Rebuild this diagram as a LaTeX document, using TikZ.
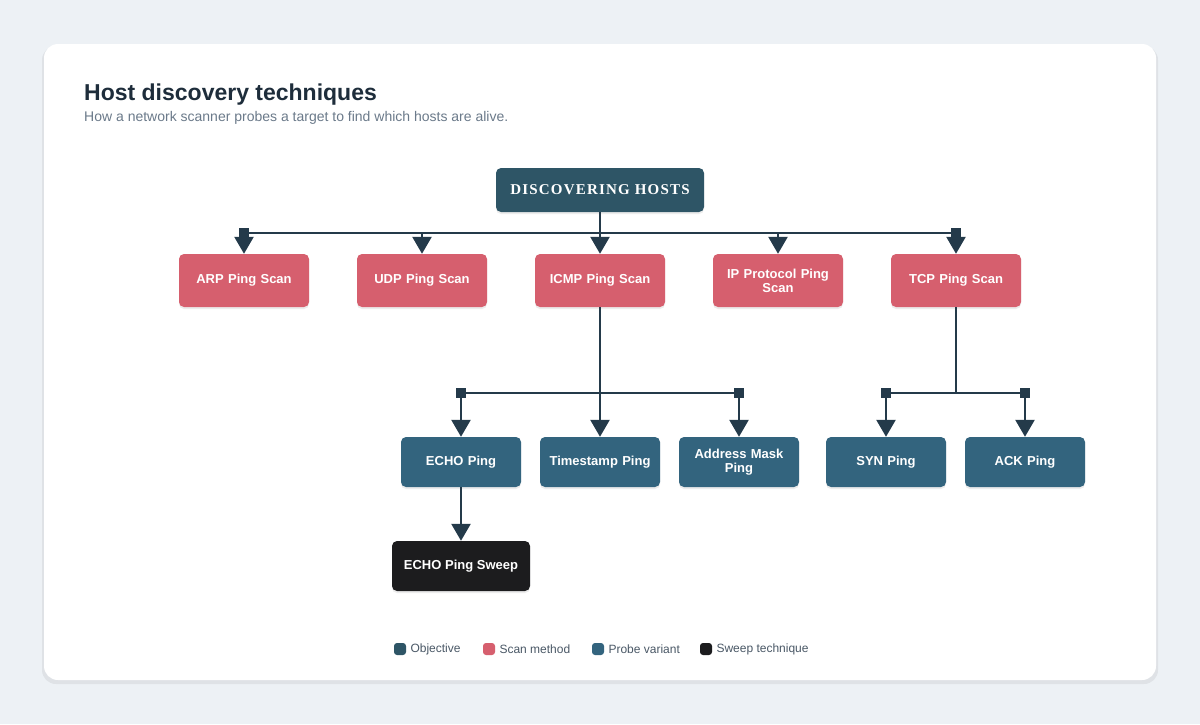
\documentclass[tikz,border=0pt]{standalone}
\usepackage{fontspec}
\setmainfont{Liberation Sans}
\newfontfamily\rootfont[LetterSpace=8]{Liberation Serif}
\usetikzlibrary{arrows.meta,shadows}
\definecolor{bg}{HTML}{EDF1F5}
\definecolor{line}{HTML}{243A4A}
\definecolor{obj}{HTML}{2E5566}
\definecolor{scan}{HTML}{D65F6E}
\definecolor{probe}{HTML}{33647E}
\definecolor{sweep}{HTML}{1C1C1E}
\definecolor{ttl}{HTML}{1E2D3B}
\definecolor{sub}{HTML}{6B7A8A}
\definecolor{leg}{HTML}{4A5866}
\begin{document}
\begin{tikzpicture}[x=1pt,y=-1pt,
  box/.style={rounded corners=5pt,text=white,font=\bfseries\fontsize{13}{14}\selectfont,align=center,inner sep=0pt,drop shadow={shadow xshift=0pt,shadow yshift=-2pt,opacity=0.15}},
  scan/.style={box,fill=scan,minimum width=130pt,minimum height=53pt,text width=120pt},
  probe/.style={box,fill=probe,minimum width=120pt,minimum height=50pt,text width=110pt},
  conn/.style={line,line width=2.5pt},
  arr/.style={conn,-{Triangle[width=19pt,length=17pt]}},
  sq/.style={fill=line,minimum size=10pt,inner sep=0pt},
  lg/.style={rounded corners=3pt,minimum size=12pt,inner sep=0pt},
  lt/.style={text=leg,font=\fontsize{12}{14}\selectfont,anchor=west}]
\fill[bg] (0,0) rectangle (1200,724);
\useasboundingbox (0,0) rectangle (1200,724);
\fill[black,opacity=0.06,rounded corners=14pt] (42,46) rectangle (1158,684);
\fill[white,rounded corners=14pt] (44,44) rectangle (1156,680);
\node[anchor=base west,text=ttl,font=\bfseries\fontsize{23}{26}\selectfont,inner sep=0pt] (title) at (84,100) {Host discovery techniques};
\node[anchor=base west,text=sub,font=\fontsize{14}{16}\selectfont,inner sep=0pt] (subt) at (84,121) {How a network scanner probes a target to find which hosts are alive.};
\node[box,fill=obj,minimum width=208pt,minimum height=44pt,font=\rootfont\bfseries\fontsize{15}{16}\selectfont] (root) at (600,190) {DISCOVERING HOSTS};
\node[scan] (arp) at (244,280.5) {ARP Ping Scan};
\node[scan] (udp) at (422,280.5) {UDP Ping Scan};
\node[scan] (icmp) at (600,280.5) {ICMP Ping Scan};
\node[scan] (ipp) at (778,280.5) {IP Protocol Ping\\Scan};
\node[scan] (tcp) at (956,280.5) {TCP Ping Scan};
\node[probe] (echo) at (461,462) {ECHO Ping};
\node[probe] (ts) at (600,462) {Timestamp Ping};
\node[probe] (am) at (739,462) {Address Mask\\Ping};
\node[probe] (syn) at (886,462) {SYN Ping};
\node[probe] (ack) at (1025,462) {ACK Ping};
\node[box,fill=sweep,minimum width=138pt,minimum height=50pt] (sw) at (461,566) {ECHO Ping Sweep};
% bus 1
\coordinate (b1) at (600,233);
\coordinate (b1l) at (244,233); \coordinate (b1r) at (956,233);
\draw[conn] (root.south) -- (b1);
\draw[conn] (b1l) -- (b1r);
\node[sq] (s1) at (244,233) {}; \node[sq] (s2) at (956,233) {};
\foreach \n/\x in {arp/244,udp/422,icmp/600,ipp/778,tcp/956}
  \draw[arr] (\x,233) -- (\n.north);
% bus 2
\coordinate (b2) at (600,393);
\draw[conn] (icmp.south) -- (b2);
\draw[conn] (461,393) -- (739,393);
\node[sq] at (461,393) {}; \node[sq] at (739,393) {};
\foreach \n/\x in {echo/461,ts/600,am/739}
  \draw[arr] (\x,393) -- (\n.north);
% bus 3
\coordinate (b3) at (956,393);
\draw[conn] (tcp.south) -- (b3);
\draw[conn] (886,393) -- (1025,393);
\node[sq] at (886,393) {}; \node[sq] at (1025,393) {};
\foreach \n/\x in {syn/886,ack/1025}
  \draw[arr] (\x,393) -- (\n.north);
\draw[arr] (echo.south) -- (sw.north);
% legend
\node[lg,fill=obj] (l1) at (400,649) {}; \node[lt] at (407,649) {Objective};
\node[lg,fill=scan] (l2) at (489,649) {}; \node[lt] at (496,649) {Scan method};
\node[lg,fill=probe] (l3) at (598,649) {}; \node[lt] at (605,649) {Probe variant};
\node[lg,fill=sweep] (l4) at (706,649) {}; \node[lt] at (713,649) {Sweep technique};
\end{tikzpicture}
\end{document}
